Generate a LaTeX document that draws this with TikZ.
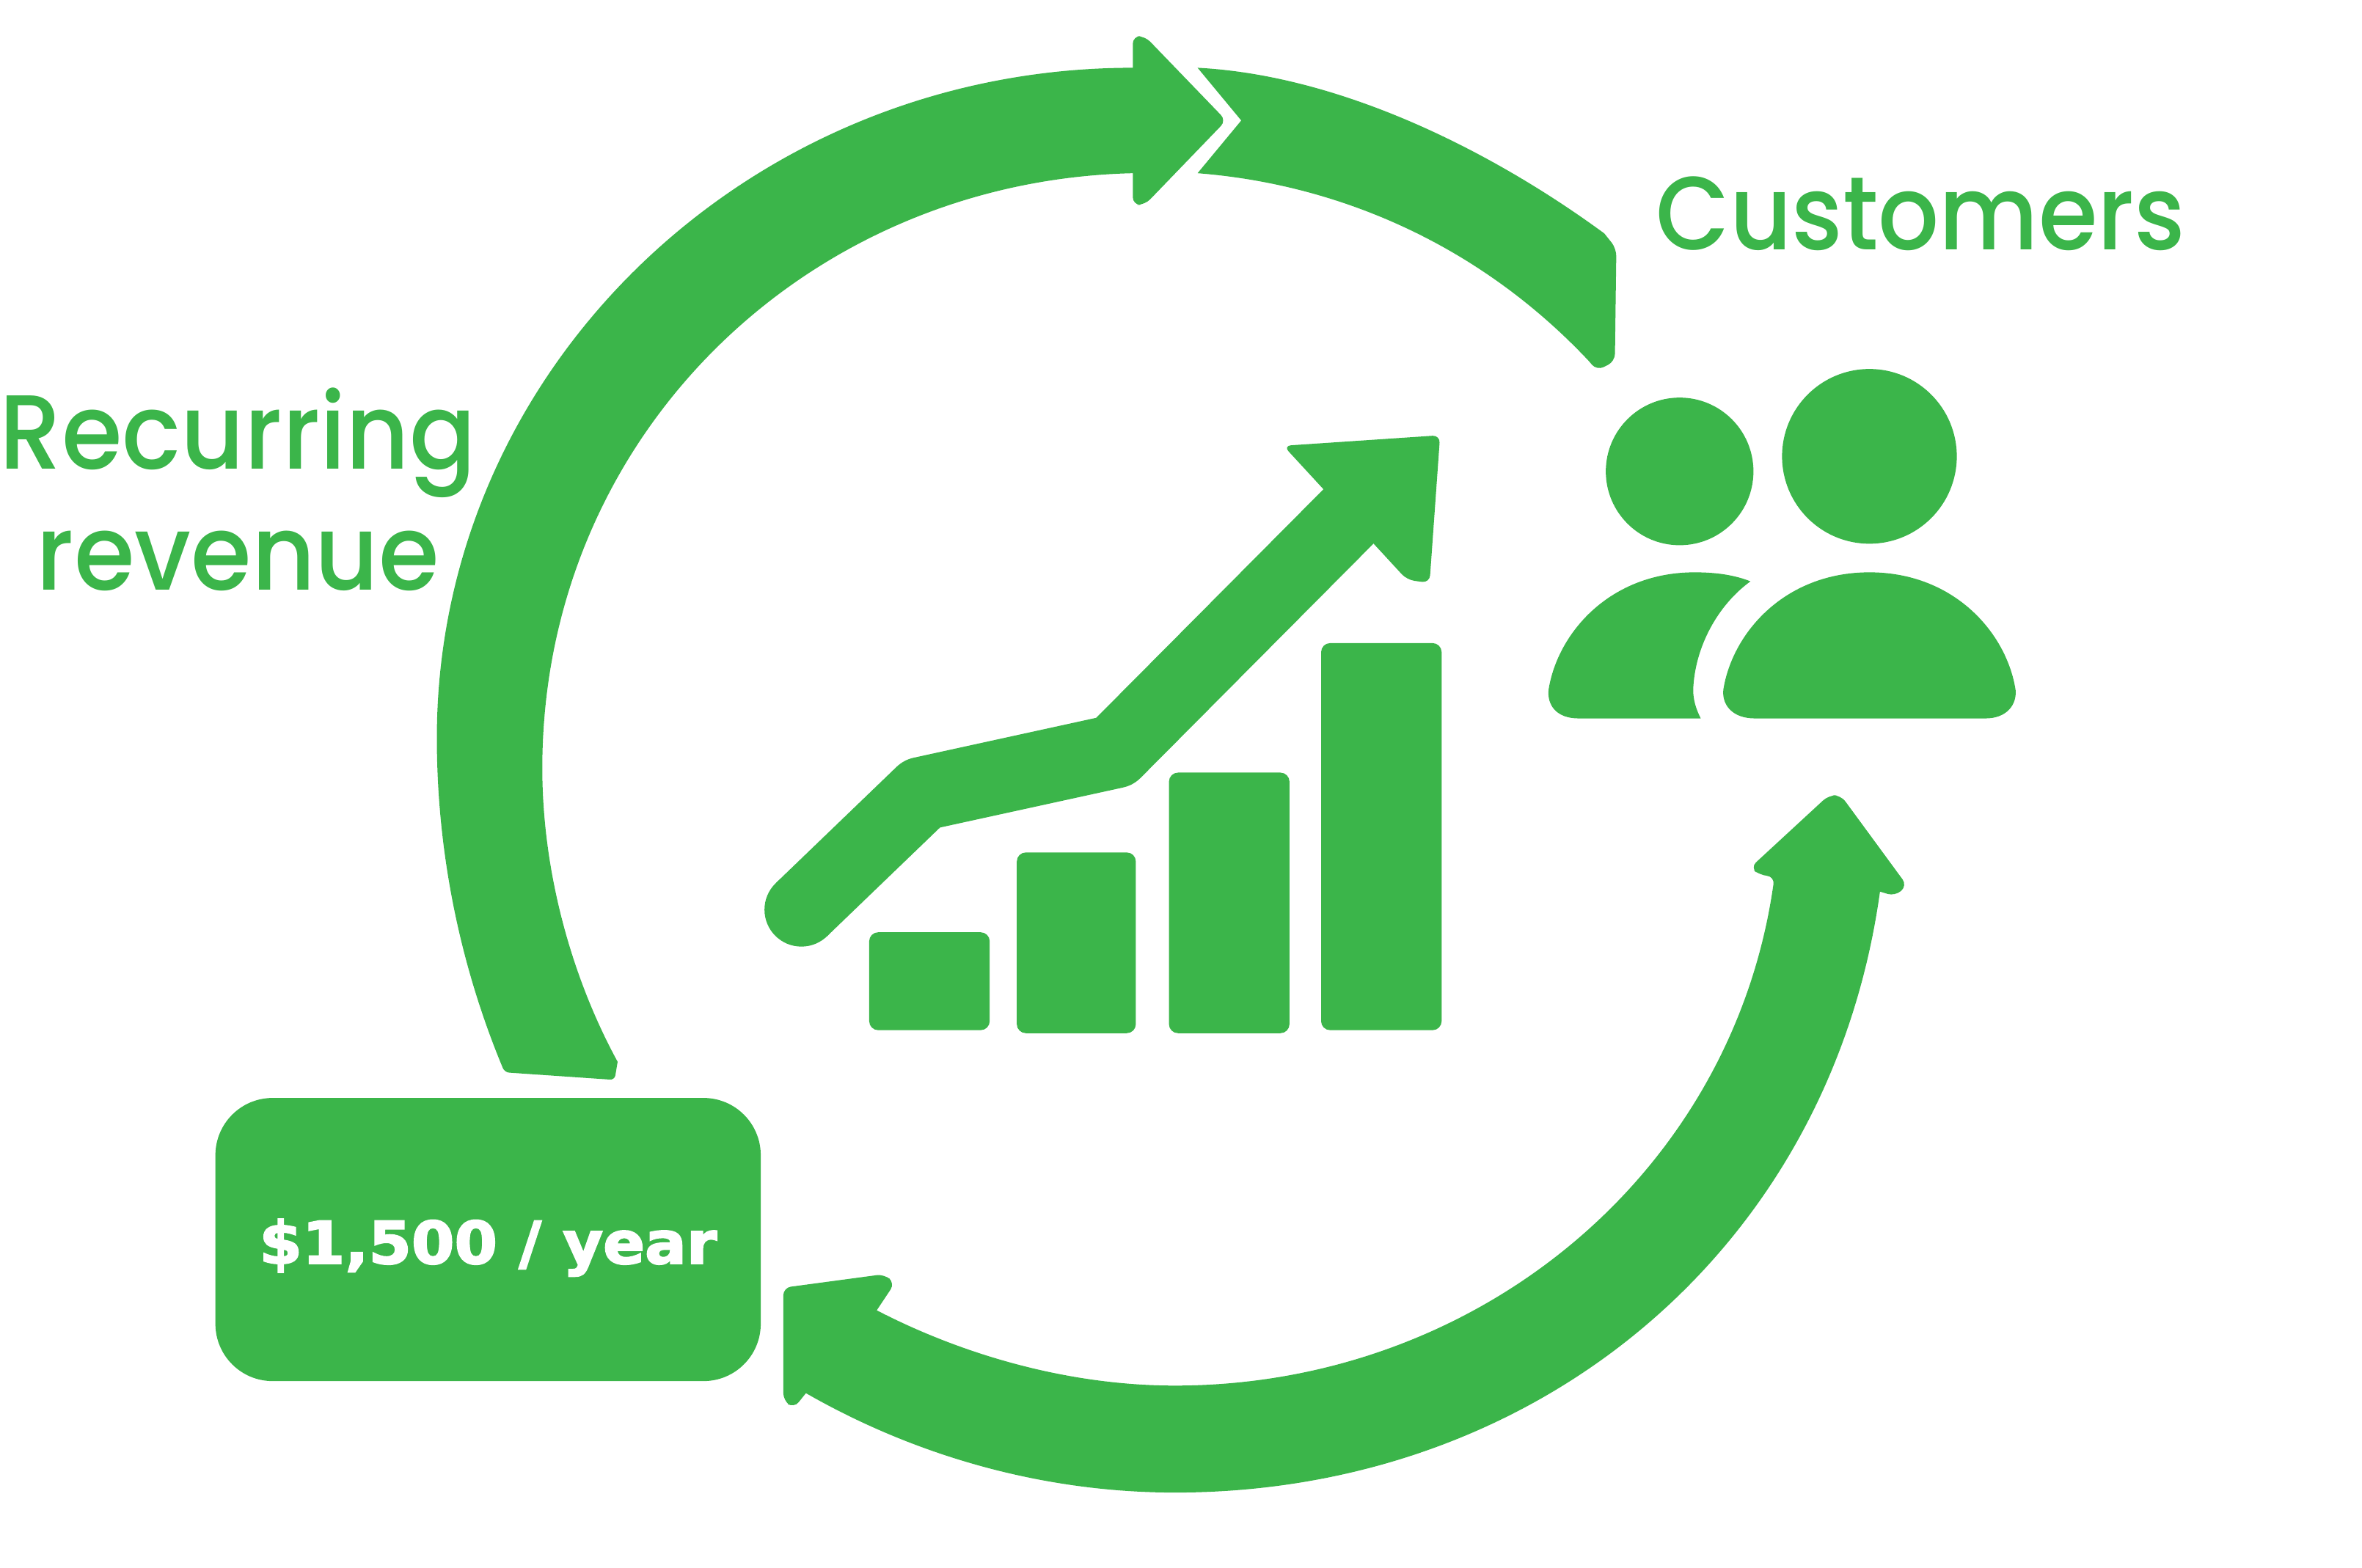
\documentclass[tikz,border=0pt]{standalone}
\usepackage{fontspec}
\setmainfont{Poppins Medium}
\newfontfamily\boxfont[FakeBold=2.5]{DejaVu Sans Bold}
\definecolor{brand}{HTML}{3BB54A}
\tikzset{
  shapefill/.style={fill=brand,draw=none},
  softfill/.style={fill=brand,draw=none,rounded corners=5pt},
  barshape/.style={fill=brand,draw=none,rounded corners=6pt},
  headline/.style={text=brand,inner sep=0pt,align=center},
  pricebox/.style={fill=brand,draw=none,rounded corners=38pt,minimum width=362pt,minimum height=188pt,inner sep=0pt,text=white,font=\boxfont\fontsize{39}{50}\selectfont}
}
\begin{document}
\begin{tikzpicture}[x=1pt,y=-1pt]
\useasboundingbox (0,0) rectangle (1568,1041);
% left arc with arrowhead
\fill[shapefill] (335,712) .. controls (305,640) and (290,565) .. (290,490) .. controls (290,245) and (497,45) .. (752,45)
  [rounded corners=5pt] -- (752,24) -- (760,24) -- (814,80) -- (760,136) -- (752,136) [sharp corners] -- (752,115)
  .. controls (535,120) and (360,290) .. (360,510) .. controls (360,580) and (380,650) .. (410,705)
  [rounded corners=3pt] -- (408,717) -- cycle;
% top right arc
\fill[shapefill] (795,45) .. controls (890,50) and (990,100) .. (1065,155)
  [rounded corners=5pt] -- (1073,165) -- (1072,240) -- (1060,246) [sharp corners] -- (1055,240)
  .. controls (980,160) and (885,122) .. (795,115)
  -- (824,80) -- cycle;
% bottom double arrow
\fill[shapefill] (1178,582) .. controls (1150,780) and (980,920) .. (780,920) .. controls (710,920) and (640,900) .. (582,870)
  [rounded corners=5pt] -- (594,852) -- (587,846) -- (520,855) -- (520,930) -- (527,935) [sharp corners] -- (535,925)
  .. controls (610,968) and (695,991) .. (780,991) .. controls (1020,991) and (1215,830) .. (1248,592)
  [rounded corners=5pt] -- (1258,595) -- (1266,588) -- (1222,528) -- (1214,528) -- (1162,576) -- (1168,581) -- cycle;
% chart bars
\fill[barshape] (577,619) rectangle (657,684);
\fill[barshape] (675,566) rectangle (754,686);
\fill[barshape] (776,513) rectangle (856,686);
\fill[barshape] (877,427) rectangle (957,684);
% growth arrow
\fill[shapefill] (532,604) circle[radius=24.5];
\draw[brand,line width=49pt,line join=round] (532,604) -- (612,527) -- (740,499) -- (905,333);
\fill[softfill] (852,296) -- (956,289) -- (949,387) -- (934,385) -- cycle;
% people
\fill[shapefill] (1115,313) circle[radius=49];
\fill[shapefill] (1241,303) circle[radius=58];
\fill[shapefill] (1165,477) .. controls (1150,477) and (1143,468) .. (1144,458) .. controls (1150,420) and (1185,380) .. (1241,380) .. controls (1297,380) and (1332,420) .. (1338,458) .. controls (1339,468) and (1332,477) .. (1318,477) -- cycle;
\fill[shapefill] (1048,477) .. controls (1033,477) and (1027,468) .. (1028,458) .. controls (1034,420) and (1069,380) .. (1125,380) .. controls (1140,380) and (1152,382) .. (1162,386) .. controls (1140,402) and (1125,430) .. (1124,458) .. controls (1124,465) and (1126,471) .. (1129,477) -- cycle;
% texts
\node[pricebox] (price) at (324,823) {\raisebox{-16pt}[0pt][0pt]{\scalebox{1.05}[1]{\$1,500 / year}}};
\node[headline,anchor=center,font=\fontsize{70}{80}\selectfont] (recurring) at (158,325) {\scalebox{.93}[1]{Recurring}\\\scalebox{.93}[1]{revenue}};
\node[headline,anchor=base,font=\fontsize{69}{80}\selectfont] (customers) at (1275,166) {\scalebox{.92}[1]{Customers}};
\end{tikzpicture}
\end{document}
